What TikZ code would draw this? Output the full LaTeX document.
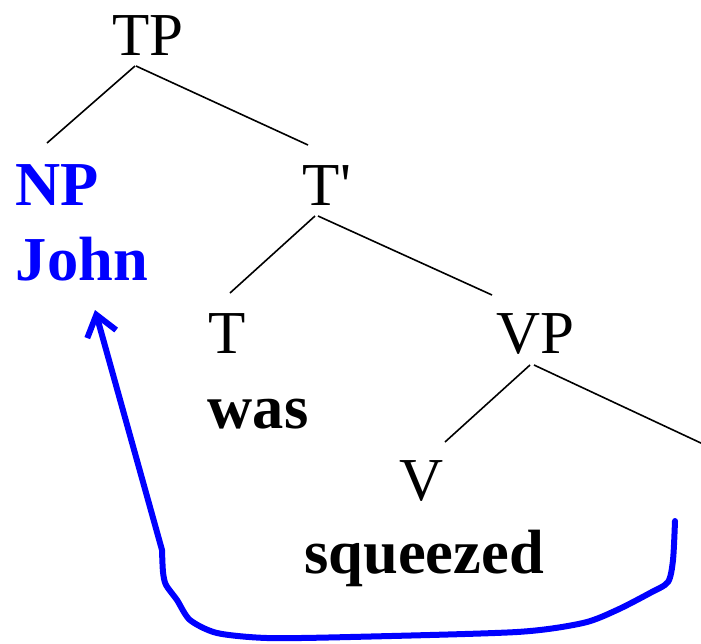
\documentclass[tikz,border=0pt]{standalone}
\usepackage{fontspec}
\setmainfont{Liberation Serif}
\usetikzlibrary{arrows.meta}
\definecolor{moveblue}{RGB}{0,0,255}
\begin{document}
\begin{tikzpicture}[x=1pt,y=-1pt,
  lab/.style={anchor=base,inner sep=0pt,font=\fontsize{61}{70}\selectfont},
  word/.style={lab,font=\fontsize{62.5}{70}\selectfont\bfseries},
  moved/.style={text=moveblue},
  branch/.style={line width=1.6pt,black},
  movearrow/.style={line width=6pt,moveblue,line cap=round,line join=round,
    -{Straight Barb[length=20pt,width=30pt,line width=6pt]}}]
\useasboundingbox (0,0) rectangle (701,643);
% nodes
\node[lab] (tp) at (148,55) {TP};
\node[word,moved] (np) at (57,205) {NP};
\node[word,moved] (john) at (82,280) {John};
\node[lab] (tbar) at (327,205) {T\textquotesingle};
\node[lab] (t) at (227,353) {T};
\node[word] (was) at (258,428) {was};
\node[lab] (vp) at (535,353) {VP};
\node[lab] (v) at (422,500) {V};
\node[word] (sq) at (424,573) {squeezed};
\coordinate (right) at (703,444);
\coordinate (trace) at (675,521);
\coordinate (tip) at ([shift={(13,30)}]john.base);
% branches
\draw[branch] ([shift={(-13,11)}]tp.base) -- ([shift={(-10,-62)}]np.base);
\draw[branch] ([shift={(-12,11)}]tp.base) -- ([shift={(-19,-60)}]tbar.base);
\draw[branch] ([shift={(-12,11)}]tbar.base) -- ([shift={(3,-60)}]t.base);
\draw[branch] ([shift={(-9,11)}]tbar.base) -- ([shift={(-43,-58)}]vp.base);
\draw[branch] ([shift={(-5,12)}]vp.base) -- ([shift={(23,-58)}]v.base);
\draw[branch] ([shift={(-1,12)}]vp.base) -- (right);
% movement arrow
\draw[movearrow] plot[smooth,tension=0.45] coordinates {(trace) (673,560) (668,582) (650,593) (617,610) (583,623) (517,632) (350,637) (267,638) (217,633) (190,620) (177,600) (166,585) (163,572) (162,550)} -- (tip);
\end{tikzpicture}
\end{document}
